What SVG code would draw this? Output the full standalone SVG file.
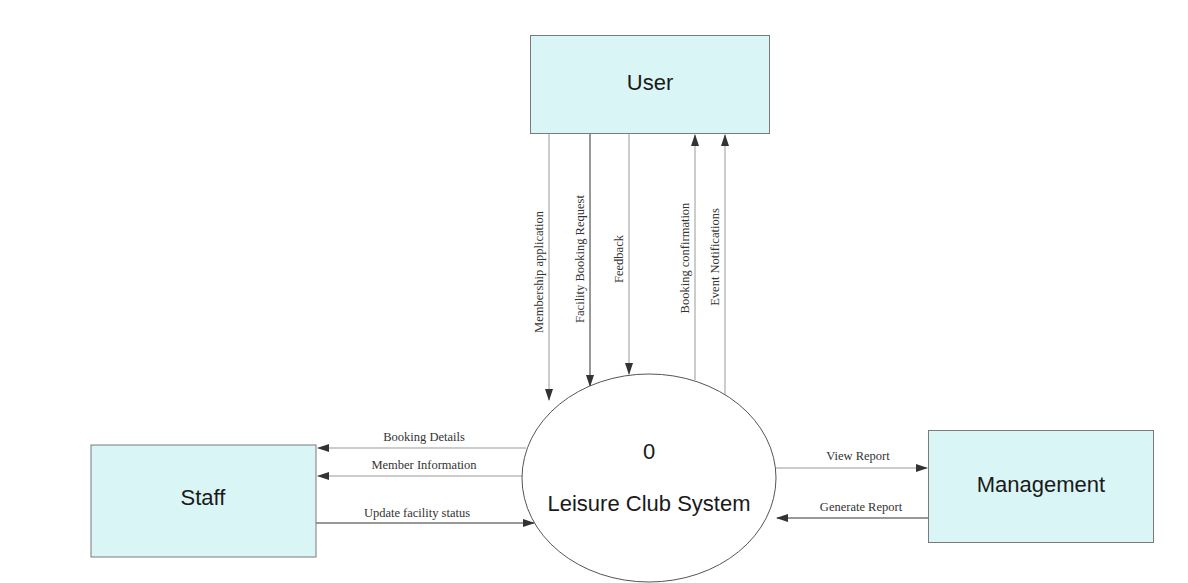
<svg xmlns="http://www.w3.org/2000/svg" width="1188" height="583" viewBox="0 0 1188 583">
<style>
.box{fill:#daf5f5;stroke:#7a7a7a;stroke-width:1}
.proc{fill:#ffffff;stroke:#555;stroke-width:1}
.big{font-family:"Liberation Sans",Arial,sans-serif;font-size:22px;fill:#1a1a1a;text-anchor:middle}
.lbl{font-family:"Liberation Serif","Times New Roman",serif;font-size:12.5px;fill:#333;text-anchor:middle}
.ln{stroke:#999;stroke-width:1;fill:none}
.dk{stroke:#333;stroke-width:1;fill:none}
</style>
<defs>
<marker id="ah" markerWidth="12" markerHeight="8" refX="11" refY="4" orient="auto" markerUnits="userSpaceOnUse">
<path d="M0,0 L12,4 L0,8 Z" fill="#333"/>
</marker>
</defs>
<rect width="1188" height="583" fill="#ffffff"/>
<g id="connectors">
<line class="ln" x1="549" y1="134" x2="549" y2="400" marker-end="url(#ah)"/>
<line class="dk" x1="590" y1="134" x2="590" y2="386" marker-end="url(#ah)"/>
<line class="ln" x1="629" y1="134" x2="629" y2="374" marker-end="url(#ah)"/>
<line class="ln" x1="695" y1="380" x2="695" y2="135" marker-end="url(#ah)"/>
<line class="ln" x1="725" y1="397" x2="725" y2="135" marker-end="url(#ah)"/>
<line class="ln" x1="526" y1="448" x2="318" y2="448" marker-end="url(#ah)"/>
<line class="ln" x1="523" y1="476" x2="318" y2="476" marker-end="url(#ah)"/>
<line class="dk" x1="316" y1="523" x2="534" y2="523" marker-end="url(#ah)"/>
<line class="ln" x1="775" y1="468" x2="927" y2="468" marker-end="url(#ah)"/>
<line class="dk" x1="928" y1="518" x2="777" y2="518" marker-end="url(#ah)"/>
<text class="lbl" transform="translate(543,272) rotate(-90)">Membership application</text>
<text class="lbl" transform="translate(584,259) rotate(-90)">Facility Booking Request</text>
<text class="lbl" transform="translate(623,259) rotate(-90)">Feedback</text>
<text class="lbl" transform="translate(689,258) rotate(-90)">Booking confirmation</text>
<text class="lbl" transform="translate(719,257) rotate(-90)">Event Notifications</text>
<text class="lbl" x="424" y="441">Booking Details</text>
<text class="lbl" x="424" y="469">Member Information</text>
<text class="lbl" x="417" y="517">Update facility status</text>
<text class="lbl" x="858" y="460">View Report</text>
<text class="lbl" x="861" y="511">Generate Report</text>
</g>
<g id="user">
<rect class="box" x="530.5" y="35.5" width="239" height="98"/>
<text class="big" x="650" y="90">User</text>
</g>
<g id="staff">
<rect class="box" x="91" y="445" width="225" height="112"/>
<text class="big" x="203" y="505">Staff</text>
</g>
<g id="management">
<rect class="box" x="928.5" y="430.5" width="225" height="112"/>
<text class="big" x="1041" y="492">Management</text>
</g>
<g id="process">
<ellipse class="proc" cx="649" cy="478" rx="127" ry="104"/>
<text class="big" x="649" y="459">0</text>
<text class="big" x="649" y="511">Leisure Club System</text>
</g>
</svg>
